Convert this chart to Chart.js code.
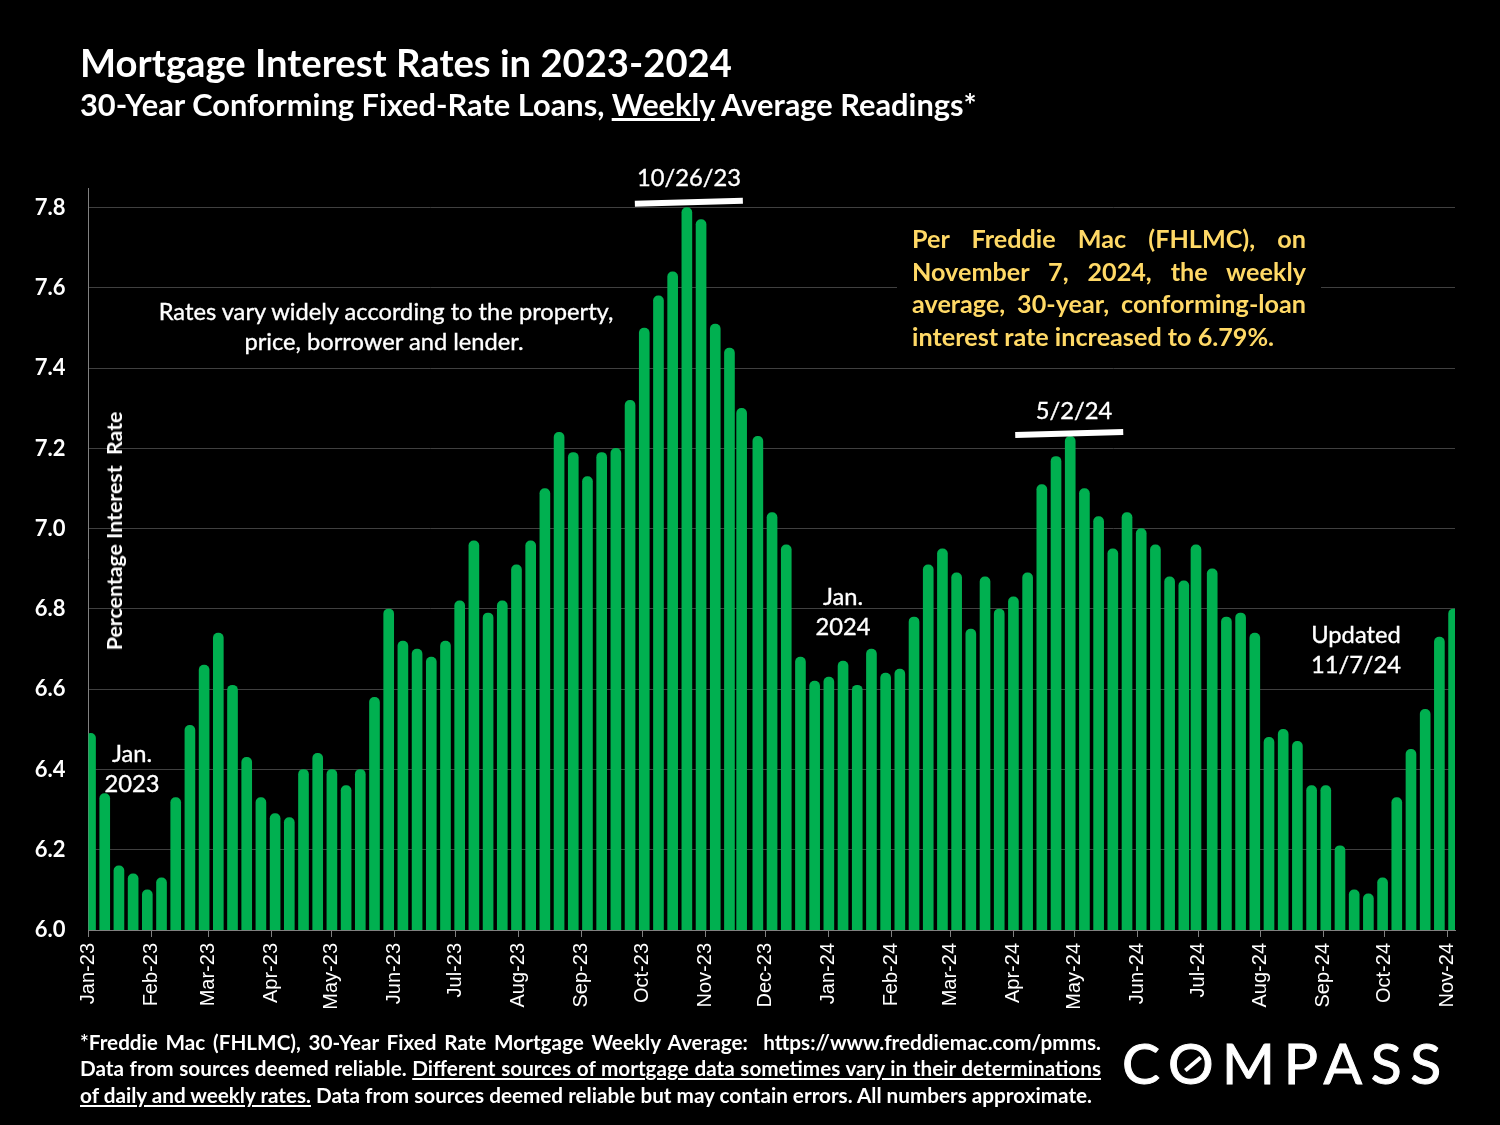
<!DOCTYPE html>
<html>
<head>
<meta charset="utf-8">
<title>Mortgage Interest Rates in 2023-2024</title>
<script src="https://cdn.jsdelivr.net/npm/chart.js@4"></script>
<style>
  html, body { margin: 0; padding: 0; background: #000; }
  #wrap { position: relative; width: 1500px; height: 1125px; overflow: hidden; font-family: Lato, sans-serif; color: #fff; }
  canvas { position: absolute; left: 0; top: 0; }
  .t { position: absolute; white-space: nowrap; }
  .c { position: absolute; white-space: nowrap; transform: translate(-50%, -50%); font-size: 23.7px; font-weight: 400; -webkit-text-stroke: 0.35px #fff; text-align: center; }
  .j { position: absolute; text-align: justify; text-align-last: justify; white-space: normal; }
  #noteMask { position: absolute; left: 897px; top: 225px; width: 424px; height: 125px; background: #000; }
  .note { color: #FFD966; font-size: 25.2px; font-weight: 700; left: 912px; width: 394px; transform: translateY(-50%); }
  .foot { font-size: 20.7px; font-weight: 700; left: 80px; width: 1021px; transform: translateY(-50%); }
</style>
</head>
<body>
<div id="wrap">
  <canvas id="rateChart" width="1500" height="1125"></canvas>

  <div class="t" style="left:80px;top:39px;font-size:38.2px;font-weight:700">Mortgage Interest Rates in 2023-2024</div>
  <div class="t" style="left:80px;top:86px;font-size:30.8px;font-weight:700">30-Year Conforming Fixed-Rate Loans, <u>Weekly</u> Average Readings*</div>

  <div class="c" style="left:689px;top:177px">10/26/23</div>
  <div class="c" style="left:1074px;top:410px">5/2/24</div>
  <div class="c" style="left:386px;top:311px">Rates vary widely according to the property,</div>
  <div class="c" style="left:384px;top:341px">price, borrower and lender.</div>
  <div class="c" style="left:132px;top:753px">Jan.</div>
  <div class="c" style="left:132px;top:783px">2023</div>
  <div class="c" style="left:843px;top:596px">Jan.</div>
  <div class="c" style="left:843px;top:626px">2024</div>
  <div class="c" style="left:1356px;top:634px">Updated</div>
  <div class="c" style="left:1356px;top:664px">11/7/24</div>
  <div class="c" style="left:114px;top:531px;font-size:21.3px;font-weight:700;-webkit-text-stroke:0;transform:translate(-50%,-50%) rotate(-90deg)">Percentage Interest&nbsp; Rate</div>

  <div id="noteMask"></div>
  <div class="j note" style="top:238px">Per Freddie Mac (FHLMC), on</div>
  <div class="j note" style="top:271px">November 7, 2024, the weekly</div>
  <div class="j note" style="top:303px">average, 30-year, conforming-loan</div>
  <div class="t note" style="top:336px;width:auto">interest rate increased to 6.79%.</div>

  <div class="j foot" style="top:1042px">*Freddie Mac (FHLMC), 30-Year Fixed Rate Mortgage Weekly Average: &nbsp;https://www.freddiemac.com/pmms.</div>
  <div class="j foot" style="top:1068px">Data from sources deemed reliable. <u>Different sources of mortgage data sometimes vary in their determinations</u></div>
  <div class="t foot" style="top:1095px;width:auto"><u>of daily and weekly rates.</u> Data from sources deemed reliable but may contain errors. All numbers approximate.</div>

  <div class="t" style="left:1122px;top:1028px;font-size:57px;line-height:68px;letter-spacing:8.6px;font-weight:400;-webkit-text-stroke:1px #fff">COMPASS</div>
  <div style="position:absolute;left:1183px;top:1062px;width:20px;height:4px;background:#fff;transform:rotate(-40deg)"></div>
</div>

<script>
const weekDates = [
  "2023-01-05","2023-01-12","2023-01-19","2023-01-26","2023-02-02","2023-02-09","2023-02-16","2023-02-23",
  "2023-03-02","2023-03-09","2023-03-16","2023-03-23","2023-03-30","2023-04-06","2023-04-13","2023-04-20","2023-04-27",
  "2023-05-04","2023-05-11","2023-05-18","2023-05-25","2023-06-01","2023-06-08","2023-06-15","2023-06-22","2023-06-29",
  "2023-07-06","2023-07-13","2023-07-20","2023-07-27","2023-08-03","2023-08-10","2023-08-17","2023-08-24","2023-08-31",
  "2023-09-07","2023-09-14","2023-09-21","2023-09-28","2023-10-05","2023-10-12","2023-10-19","2023-10-26",
  "2023-11-02","2023-11-09","2023-11-16","2023-11-22","2023-11-30","2023-12-07","2023-12-14","2023-12-21","2023-12-28",
  "2024-01-04","2024-01-11","2024-01-18","2024-01-25","2024-02-01","2024-02-08","2024-02-15","2024-02-22","2024-02-29",
  "2024-03-07","2024-03-14","2024-03-21","2024-03-28","2024-04-04","2024-04-11","2024-04-18","2024-04-25",
  "2024-05-02","2024-05-09","2024-05-16","2024-05-23","2024-05-30","2024-06-06","2024-06-13","2024-06-20","2024-06-27",
  "2024-07-03","2024-07-11","2024-07-18","2024-07-25","2024-08-01","2024-08-08","2024-08-15","2024-08-22","2024-08-29",
  "2024-09-05","2024-09-12","2024-09-19","2024-09-26","2024-10-03","2024-10-10","2024-10-17","2024-10-24","2024-10-31",
  "2024-11-07"
];

const rateValues = [
  6.49,6.34,6.16,6.14,6.10,6.13,6.33,6.51,
  6.66,6.74,6.61,6.43,6.33,6.29,6.28,6.40,6.44,
  6.40,6.36,6.40,6.58,6.80,6.72,6.70,6.68,6.72,
  6.82,6.97,6.79,6.82,6.91,6.97,7.10,7.24,7.19,
  7.13,7.19,7.20,7.32,7.50,7.58,7.64,7.80,
  7.77,7.51,7.45,7.30,7.23,7.04,6.96,6.68,6.62,
  6.63,6.67,6.61,6.70,6.64,6.65,6.78,6.91,6.95,
  6.89,6.75,6.88,6.80,6.83,6.89,7.11,7.18,
  7.23,7.10,7.03,6.95,7.04,7.00,6.96,6.88,6.87,
  6.96,6.90,6.78,6.79,6.74,6.48,6.50,6.47,6.36,
  6.36,6.21,6.10,6.09,6.13,6.33,6.45,6.55,6.73,
  6.80
];

const tickLabels = [
  "Jan-23","Feb-23","Mar-23","Apr-23","May-23","Jun-23","Jul-23","Aug-23","Sep-23","Oct-23","Nov-23","Dec-23",
  "Jan-24","Feb-24","Mar-24","Apr-24","May-24","Jun-24","Jul-24","Aug-24","Sep-24","Oct-24","Nov-24"
];

const tickDates = [
  "2023-01-04","2023-02-04","2023-03-04","2023-04-04","2023-05-04","2023-06-04","2023-07-04","2023-08-04","2023-09-04","2023-10-04","2023-11-04","2023-12-04",
  "2024-01-04","2024-02-04","2024-03-04","2024-04-04","2024-05-04","2024-06-04","2024-07-04","2024-08-04","2024-09-04","2024-10-04","2024-11-04"
];

const peakDates = ["2023-10-26", "2024-05-02"];

// x axis runs in days since the first tick
const dayOf = d => (Date.parse(d) - Date.parse(tickDates[0])) / 86400000;
const tickDays = tickDates.map(dayOf);

// white rules over the two peaks, slightly tilted like the hand-placed ones
const peakLines = {
  id: "peakLines",
  afterDatasetsDraw(chart) {
    const { ctx, scales } = chart;
    const shifts = [{ dx: -52, dy: -4 }, { dx: -55, dy: -1.5 }];
    ctx.save();
    ctx.strokeStyle = "#fff";
    ctx.lineWidth = 6;
    peakDates.forEach((d, n) => {
      const i = weekDates.indexOf(d);
      const x = scales.x.getPixelForValue(dayOf(d)) + shifts[n].dx;
      const y = scales.y.getPixelForValue(rateValues[i]) + shifts[n].dy;
      ctx.beginPath();
      ctx.moveTo(x, y);
      ctx.lineTo(x + 108, y - 3);
      ctx.stroke();
    });
    ctx.restore();
  }
};

new Chart(document.getElementById("rateChart"), {
  type: "bar",
  data: {
    datasets: [{
      label: "30-Year Fixed Rate",
      data: weekDates.map((d, i) => ({ x: dayOf(d), y: rateValues[i] })),
      backgroundColor: "#00B050",
      barThickness: 10,
      borderRadius: { topLeft: 5, topRight: 5, bottomLeft: 0, bottomRight: 0 },
      borderSkipped: false
    }]
  },
  options: {
    responsive: false,
    animation: false,
    devicePixelRatio: 1,
    layout: { padding: { left: 0, top: 188, right: 45, bottom: 0 } },
    plugins: { legend: { display: false }, title: { display: false }, tooltip: { enabled: false } },
    scales: {
      x: {
        type: "linear",
        offset: false,
        min: 0,
        max: 673.7,
        afterFit: s => { s.height = 195; },
        afterBuildTicks: s => { s.ticks = tickDays.map(v => ({ value: v })); },
        grid: { display: true, offset: false, drawOnChartArea: false, color: "#808080", tickLength: 7, lineWidth: 1 },
        border: { color: "#808080", z: 1 },
        ticks: {
          autoSkip: false,
          maxRotation: 90,
          minRotation: 90,
          padding: 6,
          color: "#fff",
          font: { family: "Liberation Sans", size: 20 },
          callback: v => tickLabels[tickDays.indexOf(v)]
        }
      },
      y: {
        min: 6,
        max: 7.849,
        afterFit: s => { s.width = 88.5; },
        grid: { color: "#404040", lineWidth: 1, drawTicks: false },
        border: { color: "#808080" },
        ticks: {
          stepSize: 0.2,
          includeBounds: false,
          padding: 23,
          color: "#fff",
          font: { family: "Lato", size: 22, weight: "bold" },
          callback: v => v.toFixed(1)
        }
      }
    }
  },
  plugins: [peakLines]
});
</script>
</body>
</html>
